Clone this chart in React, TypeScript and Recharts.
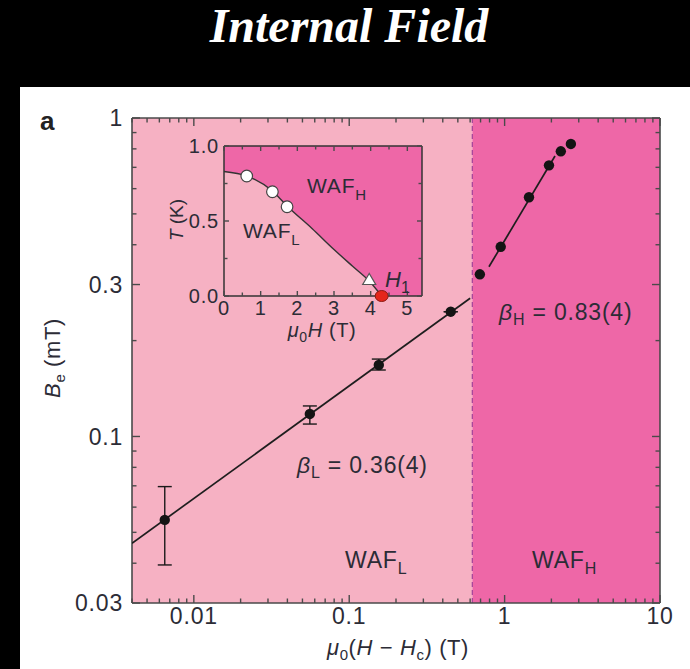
import React from 'react';
import {
  ComposedChart,
  Scatter,
  XAxis,
  YAxis,
  ReferenceArea,
  ReferenceLine,
  ErrorBar,
  Area,
} from 'recharts';

// ---- main panel data: internal field B_e vs reduced field mu0(H - Hc) ----
const lowField = [0.0065, 0.0558, 0.155, 0.45];
const lowBe = [0.0547, 0.1177, 0.1677, 0.2465];
const lowErrDown = [0.0152, 0.0083, 0.006, 0];
const lowErrUp = [0.0149, 0.007, 0.0073, 0];

const highField = [0.693, 0.944, 1.435, 1.93, 2.3, 2.67];
const highBe = [0.323, 0.394, 0.564, 0.71, 0.786, 0.829];

// power-law fits (end points of each straight line on log-log axes)
const lowFitField = [0.004, 0.6];
const lowFitBe = [0.0462, 0.2716];
const highFitField = [0.793, 2.11];
const highFitBe = [0.341, 0.76];

const crossoverField = 0.62;
const fieldDomain = [0.004, 10];
const beDomain = [0.03, 1];

const fieldTicks = [
  0.004, 0.005, 0.006, 0.007, 0.008, 0.009,
  0.01, 0.02, 0.03, 0.04, 0.05, 0.06, 0.07, 0.08, 0.09,
  0.1, 0.2, 0.3, 0.4, 0.5, 0.6, 0.7, 0.8, 0.9,
  1, 2, 3, 4, 5, 6, 7, 8, 9, 10,
];
const fieldMajor = [0.01, 0.1, 1, 10];
const fieldMajorLabels = ['0.01', '0.1', '1', '10'];

const beTicks = [
  0.03, 0.04, 0.05, 0.06, 0.07, 0.08, 0.09,
  0.1, 0.2, 0.3, 0.4, 0.5, 0.6, 0.7, 0.8, 0.9, 1,
];
const beMajor = [0.03, 0.1, 0.3, 1];
const beMajorLabels = ['0.03', '0.1', '0.3', '1'];

// ---- inset data: T–H phase diagram ----
const boundaryH = [0, 0.62, 1.32, 1.72, 2.4, 3.0, 3.5, 3.96, 4.3];
const boundaryT = [0.83, 0.8, 0.7, 0.6, 0.45, 0.31, 0.2, 0.1, 0];
const openH = [0.62, 1.32, 1.72];
const openT = [0.8, 0.695, 0.595];
const triangleH = [3.96];
const triangleT = [0.11];
const redH = [4.3];
const redT = [0];

const insetHDomain = [0, 5.4];
const insetTDomain = [0, 1];
const insetHTicks = [0, 0.5, 1, 1.5, 2, 2.5, 3, 3.5, 4, 4.5, 5];
const insetHMajor = [0, 1, 2, 3, 4, 5];
const insetHLabels = ['0', '1', '2', '3', '4', '5'];
const insetTTicks = [0, 0.25, 0.5, 0.75, 1];
const insetTMajor = [0, 0.5, 1];
const insetTLabels = ['0.0', '0.5', '1.0'];

// ---- styling ----
const LIGHT = '#F6B1C3';
const DARK = '#EE67A7';
const FRAME = '#4a4a4a';
const INK = '#2c2c36';
const FONT = '"Liberation Sans", Arial, Helvetica, sans-serif';

const lowData = lowField.map((x, i) => ({ x, y: lowBe[i], err: [lowErrDown[i], lowErrUp[i]] }));
const highData = highField.map((x, i) => ({ x, y: highBe[i] }));
const lowFit = lowFitField.map((x, i) => ({ x, y: lowFitBe[i] }));
const highFit = highFitField.map((x, i) => ({ x, y: highFitBe[i] }));

const boundary = boundaryH.map((h, i) => ({ h, t: boundaryT[i] }));
const openPts = openH.map((h, i) => ({ h, t: openT[i] }));
const trianglePts = triangleH.map((h, i) => ({ h, t: triangleT[i] }));
const redPts = redH.map((h, i) => ({ h, t: redT[i] }));

const labelOf = (v: number, majors: number[], labels: string[]) => {
  const k = majors.findIndex((m) => Math.abs(m - v) < 1e-9);
  return k >= 0 ? labels[k] : null;
};

// tick renderers: ticks point inwards, labels only on the bottom/left axes
const makeTick =
  (side: 'bottom' | 'top' | 'left' | 'right', majors: number[], labels: string[], opts: {
    major: number; minor: number; font: number; gap: number; spacing: number;
  }) =>
  (props: any) => {
    const { x, y, payload } = props;
    const lab = labelOf(payload.value, majors, labels);
    const len = lab ? opts.major : opts.minor;
    let line;
    if (side === 'bottom') line = <line x1={x} x2={x} y1={y} y2={y - len} />;
    else if (side === 'top') line = <line x1={x} x2={x} y1={y} y2={y + len} />;
    else if (side === 'left') line = <line x1={x} x2={x + len} y1={y} y2={y} />;
    else line = <line x1={x} x2={x - len} y1={y} y2={y} />;
    return (
      <g stroke={FRAME} strokeWidth={1.4}>
        {line}
        {lab && side === 'bottom' && (
          <text x={x} y={y + opts.gap} textAnchor="middle" fill={INK} stroke="none"
            fontFamily={FONT} fontSize={opts.font} letterSpacing={opts.spacing}>{lab}</text>
        )}
        {lab && side === 'left' && (
          <text x={x - opts.gap} y={y} dy="0.36em" textAnchor="end" fill={INK} stroke="none"
            fontFamily={FONT} fontSize={opts.font} letterSpacing={opts.spacing}>{lab}</text>
        )}
      </g>
    );
  };

const mainTickOpts = { major: 8, minor: 4.5, font: 23, spacing: 0.8 };
const insetTickOpts = { major: 5, minor: 3.5, font: 20, spacing: 0.8 };

const Dot = (p: any) => <circle cx={p.cx} cy={p.cy} r={5.2} fill="#141414" />;
const NoDot = () => <g />;
const OpenDot = (p: any) => (
  <circle cx={p.cx} cy={p.cy} r={5.8} fill="#ffffff" stroke="#444" strokeWidth={1.2} />
);
const TriDot = (p: any) => (
  <polygon
    points={`${p.cx},${p.cy - 6} ${p.cx - 6.5},${p.cy + 5} ${p.cx + 6.5},${p.cy + 5}`}
    fill="#ffffff" stroke="#555" strokeWidth={1.2}
  />
);
const RedDot = (p: any) => (
  <ellipse cx={p.cx} cy={p.cy} rx={6.5} ry={5.5} fill="#E5261C" stroke="#8c1a12" strokeWidth={1} />
);

function MainChart() {
  return (
    <ComposedChart width={670} height={582} margin={{ top: 30, right: 29, bottom: 0, left: 0 }}>
      <XAxis xAxisId="b" dataKey="x" type="number" scale="log" domain={fieldDomain} allowDataOverflow
        ticks={fieldTicks} interval={0} orientation="bottom" height={66} tickSize={0} tickMargin={0}
        axisLine={{ stroke: FRAME, strokeWidth: 1.6 }} tickLine={false}
        tick={makeTick('bottom', fieldMajor, fieldMajorLabels, { ...mainTickOpts, gap: 21 })} />
      <XAxis xAxisId="t" dataKey="x" type="number" scale="log" domain={fieldDomain} allowDataOverflow
        ticks={fieldTicks} interval={0} orientation="top" height={1} tickSize={0} tickMargin={0}
        axisLine={{ stroke: FRAME, strokeWidth: 1.6 }} tickLine={false}
        tick={makeTick('top', fieldMajor, fieldMajorLabels, { ...mainTickOpts, gap: 0 })} />
      <YAxis yAxisId="l" dataKey="y" type="number" scale="log" domain={beDomain} allowDataOverflow
        ticks={beTicks} interval={0} orientation="left" width={112} tickSize={0} tickMargin={0}
        axisLine={{ stroke: FRAME, strokeWidth: 1.6 }} tickLine={false}
        tick={makeTick('left', beMajor, beMajorLabels, { ...mainTickOpts, gap: 9 })} />
      <YAxis yAxisId="r" dataKey="y" type="number" scale="log" domain={beDomain} allowDataOverflow
        ticks={beTicks} interval={0} orientation="right" width={1} tickSize={0} tickMargin={0}
        axisLine={{ stroke: FRAME, strokeWidth: 1.6 }} tickLine={false}
        tick={makeTick('right', beMajor, beMajorLabels, { ...mainTickOpts, gap: 0 })} />

      <ReferenceArea xAxisId="b" yAxisId="l" x1={fieldDomain[0]} x2={crossoverField}
        y1={beDomain[0]} y2={beDomain[1]} fill={LIGHT} fillOpacity={1} stroke="none" />
      <ReferenceArea xAxisId="b" yAxisId="l" x1={crossoverField} x2={fieldDomain[1]}
        y1={beDomain[0]} y2={beDomain[1]} fill={DARK} fillOpacity={1} stroke="none" />
      <ReferenceLine xAxisId="b" yAxisId="l" x={crossoverField} stroke="#A8479C"
        strokeWidth={1.3} strokeDasharray="5 3" />

      <Scatter xAxisId="b" yAxisId="l" data={lowFit} line={{ stroke: '#1e1e1e', strokeWidth: 1.7 }}
        shape={NoDot} isAnimationActive={false} />
      <Scatter xAxisId="b" yAxisId="l" data={highFit} line={{ stroke: '#1e1e1e', strokeWidth: 1.7 }}
        shape={NoDot} isAnimationActive={false} />
      <Scatter xAxisId="b" yAxisId="l" data={lowData} shape={Dot} isAnimationActive={false}>
        <ErrorBar dataKey="err" direction="y" width={7} stroke="#1a1a1a" strokeWidth={1.4}
          isAnimationActive={false} />
      </Scatter>
      <Scatter xAxisId="b" yAxisId="l" data={highData} shape={Dot} isAnimationActive={false} />
    </ComposedChart>
  );
}

function InsetChart() {
  return (
    <ComposedChart width={300} height={230} data={boundary}
      margin={{ top: 19, right: 27, bottom: 0, left: 0 }}>
      <XAxis xAxisId="b" dataKey="h" type="number" domain={insetHDomain}
        ticks={insetHTicks} interval={0} orientation="bottom" height={60} tickSize={0} tickMargin={0}
        axisLine={{ stroke: '#333', strokeWidth: 1.5 }} tickLine={false}
        tick={makeTick('bottom', insetHMajor, insetHLabels, { ...insetTickOpts, gap: 19 })} />
      <XAxis xAxisId="t" dataKey="h" type="number" domain={insetHDomain}
        ticks={insetHTicks} interval={0} orientation="top" height={1} tickSize={0} tickMargin={0}
        axisLine={{ stroke: '#333', strokeWidth: 1.5 }} tickLine={false}
        tick={makeTick('top', insetHMajor, insetHLabels, { ...insetTickOpts, gap: 0 })} />
      <YAxis yAxisId="l" dataKey="t" type="number" domain={insetTDomain}
        ticks={insetTTicks} interval={0} orientation="left" width={74} tickSize={0} tickMargin={0}
        axisLine={{ stroke: '#333', strokeWidth: 1.5 }} tickLine={false}
        tick={makeTick('left', insetTMajor, insetTLabels, { ...insetTickOpts, gap: 5 })} />
      <YAxis yAxisId="r" dataKey="t" type="number" domain={insetTDomain}
        ticks={insetTTicks} interval={0} orientation="right" width={1} tickSize={0} tickMargin={0}
        axisLine={{ stroke: '#333', strokeWidth: 1.5 }} tickLine={false}
        tick={makeTick('right', insetTMajor, insetTLabels, { ...insetTickOpts, gap: 0 })} />

      <ReferenceArea xAxisId="b" yAxisId="l" x1={insetHDomain[0]} x2={insetHDomain[1]}
        y1={insetTDomain[0]} y2={insetTDomain[1]} fill={DARK} fillOpacity={1} stroke="none" />
      <Area xAxisId="b" yAxisId="l" dataKey="t" type="monotone" fill={LIGHT} fillOpacity={1}
        stroke="#333" strokeWidth={1.4} dot={false} activeDot={false} isAnimationActive={false} />
      <Scatter xAxisId="b" yAxisId="l" data={openPts} dataKey="t" shape={OpenDot} isAnimationActive={false} />
      <Scatter xAxisId="b" yAxisId="l" data={trianglePts} dataKey="t" shape={TriDot} isAnimationActive={false} />
      <Scatter xAxisId="b" yAxisId="l" data={redPts} dataKey="t" shape={RedDot} isAnimationActive={false} />
    </ComposedChart>
  );
}

const txt = { fontFamily: FONT, fill: INK } as const;

export default function App() {
  return (
    <div style={{ position: 'absolute', left: 0, top: 0, width: 690, height: 669, background: '#000', overflow: 'hidden' }}>
      <svg width={690} height={87} style={{ position: 'absolute', left: 0, top: 0 }}>
        <text x={349} y={42} textAnchor="middle" fill="#fff"
          fontFamily='"Liberation Serif", "Times New Roman", serif' fontWeight="bold"
          fontStyle="italic" fontSize={48}>Internal Field</text>
      </svg>
      <div style={{ position: 'absolute', left: 20, top: 87, width: 670, height: 582, background: '#fff' }}>
        <MainChart />
      </div>
      <div style={{ position: 'absolute', left: 150, top: 126, width: 300, height: 230 }}>
        <InsetChart />
      </div>
      <svg width={690} height={669} style={{ position: 'absolute', left: 0, top: 0, pointerEvents: 'none' }}>
        <text x={40} y={130} fontFamily={FONT} fontWeight="bold" fontSize={26} fill="#222">a</text>

        {/* main axis titles */}
        <text transform="rotate(-90 60 358)" x={60} y={358} textAnchor="middle" fontSize={22}
          letterSpacing={0.6} {...txt}>
          <tspan fontStyle="italic">B</tspan>
          <tspan fontSize={15} dy={5}>e</tspan>
          <tspan dy={-5}> (mT)</tspan>
        </text>
        <text x={398} y={655} textAnchor="middle" fontSize={22} letterSpacing={0.6} {...txt}>
          <tspan fontStyle="italic">μ</tspan>
          <tspan fontSize={15} dy={5}>0</tspan>
          <tspan dy={-5}>(</tspan>
          <tspan fontStyle="italic">H</tspan>
          <tspan> − </tspan>
          <tspan fontStyle="italic">H</tspan>
          <tspan fontSize={15} dy={5}>c</tspan>
          <tspan dy={-5}>) (T)</tspan>
        </text>

        {/* exponents and phase labels */}
        <text x={297} y={473} fontSize={23} letterSpacing={0.8} {...txt}>
          <tspan fontStyle="italic">β</tspan>
          <tspan fontSize={16} dy={5}>L</tspan>
          <tspan dy={-5}> = 0.36(4)</tspan>
        </text>
        <text x={499} y={320} fontSize={23} letterSpacing={0.8} {...txt}>
          <tspan fontStyle="italic">β</tspan>
          <tspan fontSize={16} dy={5}>H</tspan>
          <tspan dy={-5}> = 0.83(4)</tspan>
        </text>
        <text x={345} y={568} fontSize={23} letterSpacing={0.8} {...txt}>
          WAF<tspan fontSize={16} dy={6}>L</tspan>
        </text>
        <text x={532} y={568} fontSize={23} letterSpacing={0.8} {...txt}>
          WAF<tspan fontSize={16} dy={6}>H</tspan>
        </text>

        {/* inset labels */}
        <text x={307} y={193} fontSize={21} letterSpacing={0.8} {...txt}>
          WAF<tspan fontSize={15} dy={7}>H</tspan>
        </text>
        <text x={243} y={238} fontSize={21} letterSpacing={0.8} {...txt}>
          WAF<tspan fontSize={15} dy={7}>L</tspan>
        </text>
        <text x={385} y={287} fontSize={22} {...txt}>
          <tspan fontStyle="italic">H</tspan>
          <tspan fontSize={16} dy={6}>1</tspan>
        </text>
        <text x={322} y={337} textAnchor="middle" fontSize={20} letterSpacing={0.6} {...txt}>
          <tspan fontStyle="italic">μ</tspan>
          <tspan fontSize={14} dy={5}>0</tspan>
          <tspan dy={-5} fontStyle="italic">H</tspan>
          <tspan> (T)</tspan>
        </text>
        <text transform="rotate(-90 183 220)" x={183} y={220} textAnchor="middle" fontSize={19} {...txt}>
          <tspan fontStyle="italic">T</tspan>
          <tspan> (K)</tspan>
        </text>
      </svg>
    </div>
  );
}
